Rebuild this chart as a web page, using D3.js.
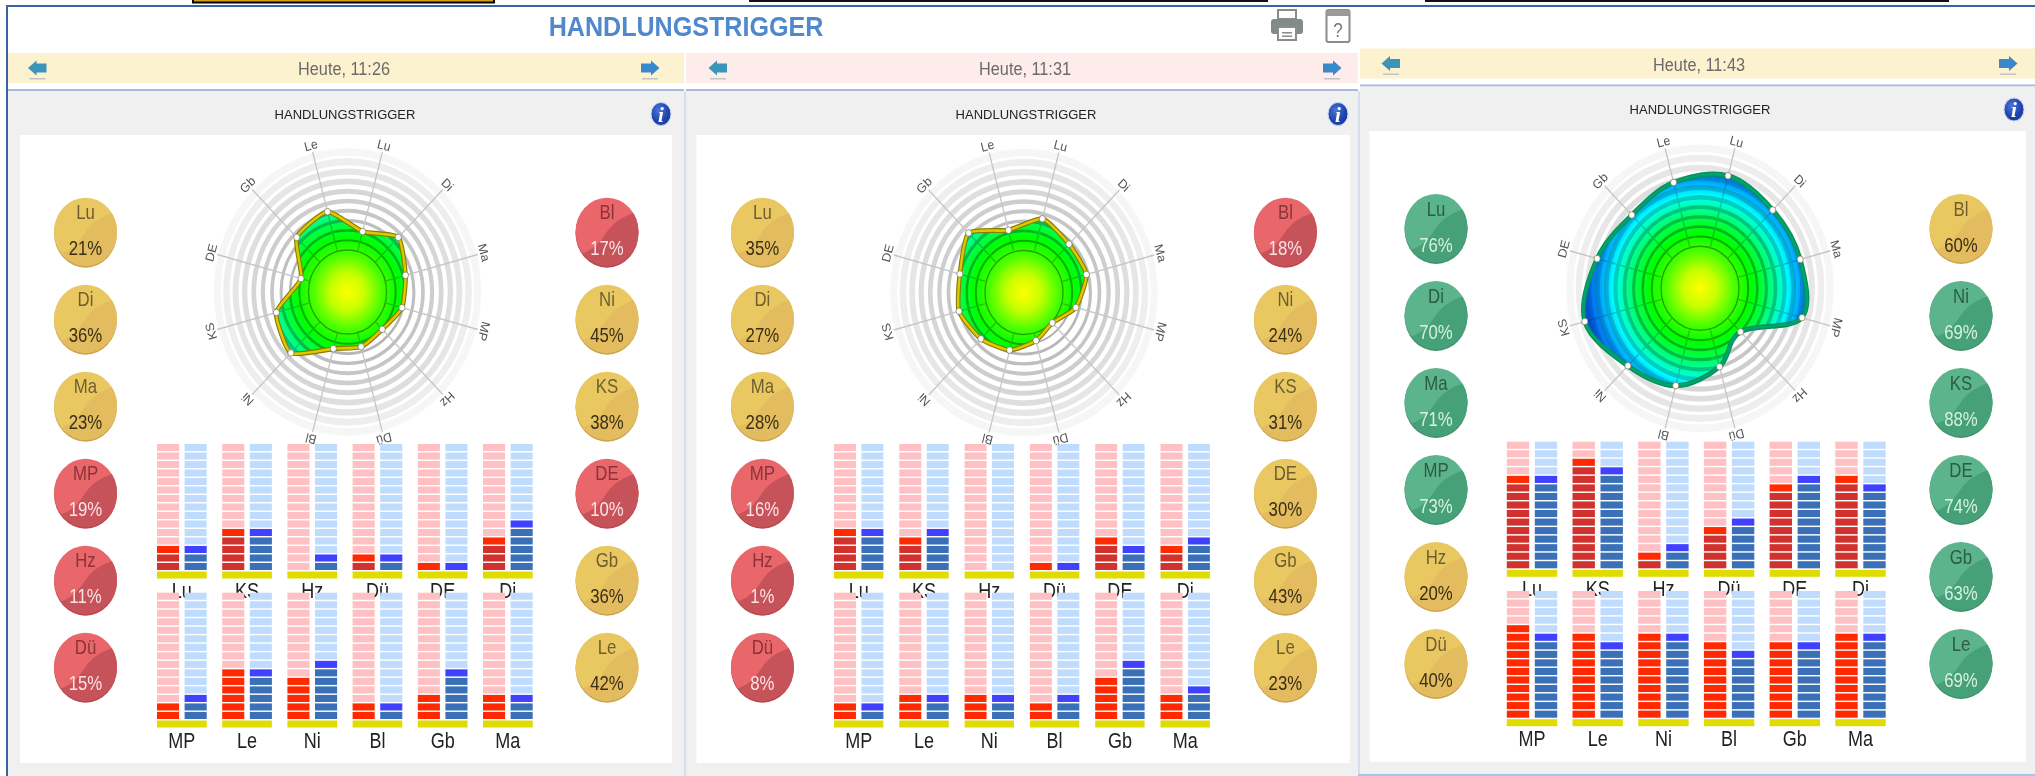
<!DOCTYPE html>
<html>
<head>
<meta charset="utf-8">
<script src="https://cdn.jsdelivr.net/npm/d3@7"></script>
<style>
  html, body { margin: 0; padding: 0; background: #fff; overflow: hidden; }
  svg { display: block; filter: blur(0.45px); }
  text { font-family: "Liberation Sans", Arial, sans-serif; }
  .multiply { mix-blend-mode: multiply; }
</style>
</head>
<body>
<div id="chart"></div>
<script>
// radar axes, clockwise from the top
const axes = ["Lu", "Di", "Ma", "MP", "Hz", "Dü", "Bl", "Ni", "KS", "DE", "Gb", "Le"]
const leftBubbles = ["Lu", "Di", "Ma", "MP", "Hz", "Dü"]
const rightBubbles = ["Bl", "Ni", "KS", "DE", "Gb", "Le"]
const topBars = ["Lu", "KS", "Hz", "Dü", "DE", "Di"]
const bottomBars = ["MP", "Le", "Ni", "Bl", "Gb", "Ma"]
const times = ["Heute, 11:26", "Heute, 11:31", "Heute, 11:43"]

// percent per axis, same order as axes
const values1 = [21, 36, 23, 19, 11, 15, 17, 45, 38, 10, 36, 42]
const values2 = [35, 27, 28, 16, 1, 8, 18, 24, 31, 30, 43, 23]
const values3 = [76, 70, 71, 73, 20, 40, 60, 69, 88, 74, 63, 69]

// lit cells of the bars, order of topBars / bottomBars
const topRed1 = [3, 5, 0, 2, 1, 4]
const topBlue1 = [3, 5, 2, 2, 1, 6]
const bottomRed1 = [2, 6, 5, 2, 3, 3]
const bottomBlue1 = [3, 6, 7, 2, 6, 3]

const topRed2 = [5, 4, 0, 1, 4, 3]
const topBlue2 = [5, 5, 0, 1, 3, 4]
const bottomRed2 = [2, 3, 3, 2, 5, 3]
const bottomBlue2 = [2, 3, 3, 3, 7, 4]

const topRed3 = [11, 13, 2, 5, 10, 11]
const topBlue3 = [11, 12, 3, 6, 11, 10]
const bottomRed3 = [11, 10, 10, 9, 9, 10]
const bottomBlue3 = [10, 9, 10, 8, 9, 10]

const cellCount = 15

const width = 2035, height = 776
const svg = d3.select("#chart").append("svg").attr("width", width).attr("height", height)
const defs = svg.append("defs")

// fill of the radar area, in the radar's own coordinates
const fillGradient = defs.append("radialGradient").attr("id", "radarFill")
    .attr("gradientUnits", "userSpaceOnUse").attr("cx", 0).attr("cy", 0).attr("r", 130)
const fillStops = [[0, "#ffff00"], [0.14, "#c8ff00"], [0.3, "#40ff00"], [0.42, "#00ff00"], [0.52, "#00ff40"],
    [0.62, "#00ffa0"], [0.72, "#00ffff"], [0.8, "#00b8ff"], [0.88, "#0080f4"], [1, "#0030d0"]]
fillStops.forEach(s => fillGradient.append("stop").attr("offset", s[0]).attr("stop-color", s[1]))

defs.append("clipPath").attr("id", "bubbleClip").append("ellipse").attr("rx", 31.5).attr("ry", 34.5)

const infoGradient = defs.append("radialGradient").attr("id", "infoFill").attr("cx", "40%").attr("cy", "35%")
infoGradient.append("stop").attr("offset", 0).attr("stop-color", "#4a78dc")
infoGradient.append("stop").attr("offset", 1).attr("stop-color", "#1c3fa8")

// frame and decorations at the very top of the screenshot
function rect(g, x, y, w, h, fill) {
    return g.append("rect").attr("x", x).attr("y", y).attr("width", w).attr("height", h).attr("fill", fill)
}

function label(g, x, y, str, size, fill, sx, weight) {
    return g.append("text")
        .attr("transform", `translate(${x},${y}) scale(${sx || 1},1)`)
        .attr("text-anchor", "middle")
        .attr("font-size", size)
        .attr("font-weight", weight || "normal")
        .attr("fill", fill)
        .text(str)
}

rect(svg, 192, 0, 303, 3.5, "#000")
rect(svg, 194, 0, 299, 1.5, "#d8a010")
rect(svg, 749, 0, 519, 2, "#111")
rect(svg, 1425, 0, 524, 2, "#111")
rect(svg, 6, 5, width - 6, 2, "#3c62a6")
rect(svg, 6, 5, 2, height - 5, "#3c62a6")

label(svg, 686, 36, "HANDLUNGSTRIGGER", 27, "#5088cc", 0.93, "bold")

// printer icon
const printer = svg.append("g").attr("transform", "translate(1287,25)")
rect(printer, -9, -15, 18, 9, "#fff").attr("stroke", "#8c8c8c").attr("stroke-width", 2)
printer.append("rect").attr("x", -16).attr("y", -6).attr("width", 32).attr("height", 15).attr("rx", 3).attr("fill", "#848a8c")
rect(printer, -9, 2, 18, 13, "#fff").attr("stroke", "#8c8c8c").attr("stroke-width", 2)
rect(printer, -5, 7, 10, 1.5, "#8c8c8c")
rect(printer, -5, 10.5, 10, 1.5, "#8c8c8c")

// help icon
const help = svg.append("g").attr("transform", "translate(1338,26)")
help.append("rect").attr("x", -11.5).attr("y", -16).attr("width", 23).attr("height", 32).attr("rx", 2)
    .attr("fill", "#fff").attr("stroke", "#8c8c8c").attr("stroke-width", 2)
rect(help, -11.5, -16, 23, 6, "#9a9a9a")
label(help, 0, 11, "?", 20, "#777", 0.85)

class HandlungsPanel {

    constructor(layout, values, time, bars) {
        this.layout = layout
        this.values = new Map(axes.map((a, i) => [a, values[i]]))
        this.time = time
        this.bars = bars
        this.initVis()
    }

    initVis() {
        let vis = this
        let l = vis.layout
        vis.g = svg.append("g")

        rect(vis.g, l.x0, l.headY, l.x1 - l.x0, 30, l.headColor)
        rect(vis.g, l.x0, l.headY + 36, l.x1 - l.x0, 2, "#a9b9dc")
        rect(vis.g, l.x0, l.headY + 38, l.x1 - l.x0, l.bottom - l.headY - 38, "#f0f0f0")
        rect(vis.g, l.cardX0, l.cardY0, l.cardX1 - l.cardX0, l.cardY1 - l.cardY0, "#fff")

        label(vis.g, l.midX, l.headY + 22, vis.time, 18.5, "#6b6b6b", 0.88)
        label(vis.g, l.midX + 1, l.headY + 65.5, "HANDLUNGSTRIGGER", 13, "#222", 1)

        vis.drawArrow(l.arrowL, l.headY + 15, -1)
        vis.drawArrow(l.arrowR, l.headY + 15, 1)
        vis.drawInfo(l.infoX, l.headY + 61)

        vis.drawBars(topBars, vis.bars.topRed, vis.bars.topBlue, l.rowTop, "#d2322e", l.barX)
        vis.drawBars(bottomBars, vis.bars.bottomRed, vis.bars.bottomBlue, l.rowBottom, "#ff2800", l.barX)
        vis.drawRadar()

        leftBubbles.forEach((c, i) => vis.drawBubble(l.bubbleL, l.bubbleY + i * 87, c))
        rightBubbles.forEach((c, i) => vis.drawBubble(l.bubbleR, l.bubbleY + i * 87, c))
    }

    drawArrow(x, y, dir) {
        let g = this.g.append("g").attr("transform", `translate(${x},${y}) scale(${dir},1)`)
        g.append("path").attr("d", "M9.5,0 L1,-7.5 L1,-4.5 L-9,-4.5 L-9,4.5 L1,4.5 L1,7.5 Z")
            .attr("fill", dir < 0 ? "#3a96b8" : "#3a88cc")
        rect(g, -8, 10, 16, 1.5, "#c4c4c4")
    }

    drawInfo(x, y) {
        this.g.append("ellipse").attr("cx", x).attr("cy", y).attr("rx", 10).attr("ry", 11.5)
            .attr("fill", "url(#infoFill)").attr("stroke", "#c9d6f2").attr("stroke-width", 1)
        this.g.append("text").attr("x", x).attr("y", y + 7.5).attr("text-anchor", "middle")
            .attr("font-size", 21).attr("font-weight", "bold").attr("font-style", "italic")
            .style("font-family", "'Liberation Serif', serif").attr("fill", "#fff").text("i")
    }

    drawBars(cats, red, blue, row, redColor, barX) {
        let vis = this
        let g = vis.g.append("g")

        let x = d3.scaleBand().domain(cats).range([barX, barX + vis.layout.barStep * 6])
        let side = d3.scaleBand().domain(["red", "blue"]).range([0, vis.layout.barWidth]).paddingInner(0.2)
        let y = d3.scaleBand().domain(d3.range(cellCount)).range([row.bottom, row.top]).paddingInner(0.17)

        cats.forEach((c, i) => {
            // the label goes first, the next row of cells covers it
            label(g, x(c) + vis.layout.barWidth / 2, row.labelY, c, 22, "#222", 0.82)
        })
        cats.forEach((c, i) => {
            let column = g.append("g").attr("transform", `translate(${x(c)},0)`)
            let cols = [["red", red[i], "#ffc0c4", redColor, "#ff2a00"], ["blue", blue[i], "#bfdcff", "#3a70b8", "#4040ff"]]
            cols.forEach(col => {
                column.selectAll(null).data(d3.range(cellCount)).join("rect")
                    .attr("x", side(col[0]))
                    .attr("width", side.bandwidth())
                    .attr("y", d => y(d))
                    .attr("height", y.bandwidth())
                    .attr("fill", d => d >= col[1] ? col[2] : d === col[1] - 1 ? col[4] : col[3])
            })
            rect(column, 0, row.bottom + 1.5, vis.layout.barWidth, 7, "#e0dc00")
        })
    }

    drawRadar() {
        let vis = this
        let l = vis.layout
        let g = vis.g.append("g").attr("transform", `translate(${l.radarX},${l.radarY}) scale(0.93,1)`)

        let angle = d3.scaleBand().domain(axes).range([0, 2 * Math.PI])
        let radius = d3.scaleLinear().domain([0, 100]).range([42, 140])
        let theta = c => angle(c) + angle.bandwidth() / 2

        let area = d3.lineRadial()
            .angle(c => theta(c))
            .radius(c => radius(vis.values.get(c)))
            .curve(d3.curveCardinalClosed.tension(l.tension))

        g.append("path").attr("d", area(axes)).attr("fill", "url(#radarFill)")

        // rings and spokes sit over the fill and darken it
        let ringColor = d3.scaleLinear().domain([0, 10]).range(["#a6a6a6", "#f6f6f6"])
        let ringWidth = d3.scaleLinear().domain([0, 10]).range([1.5, 7.5])
        let grid = g.append("g").attr("class", "multiply").attr("fill", "none")
        d3.range(0, 101, 10).forEach(v => {
            grid.append("circle").attr("r", radius(v))
                .attr("stroke", ringColor(v / 10)).attr("stroke-width", ringWidth(v / 10))
        })
        axes.forEach(c => {
            let p0 = d3.pointRadial(theta(c), radius(0))
            let p1 = d3.pointRadial(theta(c), 145)
            grid.append("line").attr("x1", p0[0]).attr("y1", p0[1]).attr("x2", p1[0]).attr("y2", p1[1])
                .attr("stroke", "#c6c6c6").attr("stroke-width", 1.4)
        })

        g.append("path").attr("d", area(axes)).attr("fill", "none")
            .attr("stroke", l.lineOuter).attr("stroke-width", 5).attr("stroke-linejoin", "round")
        g.append("path").attr("d", area(axes)).attr("fill", "none")
            .attr("stroke", l.lineInner).attr("stroke-width", 2.6).attr("stroke-linejoin", "round")

        axes.forEach(c => {
            let p = d3.pointRadial(theta(c), radius(vis.values.get(c)))
            g.append("circle").attr("cx", p[0]).attr("cy", p[1]).attr("r", 3.3)
                .attr("fill", "#fff").attr("stroke", "#6f6f40").attr("stroke-width", 0.7)
            g.append("text")
                .attr("transform", `rotate(${theta(c) * 180 / Math.PI}) translate(0,-152)`)
                .attr("text-anchor", "middle").attr("dy", "0.35em")
                .attr("font-size", 13).attr("fill", "#555").text(c)
        })
    }

    drawBubble(x, y, c) {
        let value = this.values.get(c)
        let colors = value < 20 ? bubbleRed : value <= 60 ? bubbleYellow : bubbleGreen
        let g = this.g.append("g").attr("transform", `translate(${x},${y})`)
        g.append("ellipse").attr("cy", 1.5).attr("rx", 31.5).attr("ry", 34.5).attr("fill", colors.rim)
        g.append("ellipse").attr("rx", 31.5).attr("ry", 34).attr("fill", colors.base)
        g.append("path").attr("clip-path", "url(#bubbleClip)")
            .attr("d", "M-33,24 C-14,20 -8,12 0,0 C7,-10 18,-17 33,-20 L33,36 L-33,36 Z")
            .attr("fill", colors.shade)
        label(g, 0, -12.5, c, 20, colors.name, 0.84)
        label(g, 0, 23.5, value + "%", 20, colors.pct, 0.84)
    }
}

const bubbleYellow = {rim: "#c9a24c", base: "#e9c862", shade: "#e4bc60", name: "#6f5f30", pct: "#3a2e12"}
const bubbleRed = {rim: "#b8474c", base: "#e9666b", shade: "#c6525a", name: "#8a3338", pct: "#fbe3e3"}
const bubbleGreen = {rim: "#3f8f6c", base: "#5cb48c", shade: "#46a078", name: "#2c5c44", pct: "#d8f0e2"}

const rowTop = {top: 444, bottom: 570, labelY: 598}
const rowBottom = {top: 592.7, bottom: 719, labelY: 748}
const rowTop3 = {top: 441.7, bottom: 568.3, labelY: 596}
const rowBottom3 = {top: 591, bottom: 717.7, labelY: 746}

new HandlungsPanel({
    x0: 8, x1: 684, bottom: 776, headY: 53, headColor: "#fdf2cf", midX: 344,
    cardX0: 20, cardX1: 672, cardY0: 135, cardY1: 763,
    arrowL: 37.5, arrowR: 650, infoX: 661,
    radarX: 347.5, radarY: 292, tension: 0.45, lineOuter: "#8c7800", lineInner: "#d8cc00",
    bubbleL: 85.5, bubbleR: 607, bubbleY: 231.7,
    barX: 157, barWidth: 49.7, barStep: 65.2, rowTop: rowTop, rowBottom: rowBottom
}, values1, times[0], {topRed: topRed1, topBlue: topBlue1, bottomRed: bottomRed1, bottomBlue: bottomBlue1})

new HandlungsPanel({
    x0: 686, x1: 1358, bottom: 776, headY: 53, headColor: "#fdecea", midX: 1025,
    cardX0: 696.5, cardX1: 1350, cardY0: 135, cardY1: 763,
    arrowL: 718, arrowR: 1332, infoX: 1338,
    radarX: 1024, radarY: 292.5, tension: 0.45, lineOuter: "#8c7800", lineInner: "#d8cc00",
    bubbleL: 762.4, bubbleR: 1285.4, bubbleY: 231.7,
    barX: 834, barWidth: 49.4, barStep: 65.3, rowTop: rowTop, rowBottom: rowBottom
}, values2, times[1], {topRed: topRed2, topBlue: topBlue2, bottomRed: bottomRed2, bottomBlue: bottomBlue2})

new HandlungsPanel({
    x0: 1360, x1: 2035, bottom: 774, headY: 48.5, headColor: "#fdf2cf", midX: 1699,
    cardX0: 1369.5, cardX1: 2026, cardY0: 131, cardY1: 761.7,
    arrowL: 1391, arrowR: 2008, infoX: 2014,
    radarX: 1700, radarY: 288.3, tension: 0, lineOuter: "#00905c", lineInner: "#00a468",
    bubbleL: 1436, bubbleR: 1961, bubbleY: 228,
    barX: 1506.8, barWidth: 50.4, barStep: 65.7, rowTop: rowTop3, rowBottom: rowBottom3
}, values3, times[2], {topRed: topRed3, topBlue: topBlue3, bottomRed: bottomRed3, bottomBlue: bottomBlue3})

// separators between the panels
rect(svg, 684, 91, 2, height - 91, "#d4deef")
rect(svg, 1358, 91, 2, height - 91, "#d4deef")
rect(svg, 1358, 774, width - 1358, 2, "#a8c4e8")
</script>
</body>
</html>
